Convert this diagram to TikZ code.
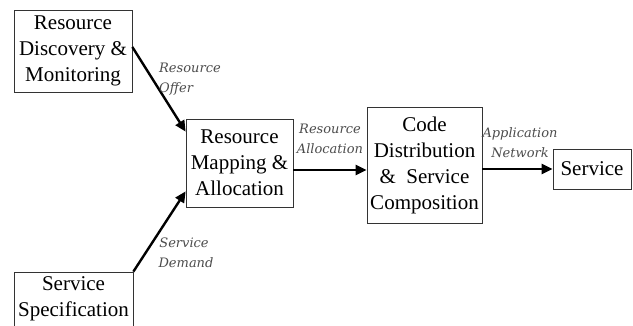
\documentclass[tikz,border=0pt]{standalone}
\usepackage{fontspec}
\setmainfont{Liberation Serif}
\newfontfamily\boxfont{Liberation Serif}
\newfontfamily\lblfont{DejaVu Serif}
\usetikzlibrary{arrows.meta,calc}
\begin{document}
\begin{tikzpicture}[x=1pt,y=1pt,
  box/.style={draw=black!80, line width=0.7pt, inner sep=0pt, align=center,
    font=\boxfont\fontsize{21}{26}\selectfont, text=black},
  lbl/.style={font=\lblfont\itshape\fontsize{13}{20}\selectfont, text=black!70, inner sep=0pt},
  arr/.style={line width=2.4pt, -{Triangle[length=11pt,width=10pt]}}]
\useasboundingbox (0,0) rectangle (633,-326);
\node[box, minimum width=118pt, minimum height=82pt] (b1) at (73,-51) {Resource\\Discovery \&\\Monitoring};
\node[box, minimum width=107pt, minimum height=88pt] (b2) at (239.5,-163) {Resource\\Mapping \&\\Allocation};
\node[box, minimum width=115pt, minimum height=116pt] (b3) at (424.5,-165) {Code\\Distribution\\\&\ \ Service\\Composition};
\node[box, minimum width=78pt, minimum height=40pt] (b4) at (592,-169) {Service};
\node[box, minimum width=119pt, minimum height=68pt] (b5) at (73.5,-306) {};
\node[font=\boxfont\fontsize{21}{26}\selectfont, align=center, anchor=north, inner sep=0pt] (b5t) at (73.5,-276) {Service\\Specification};
\draw[arr] ([yshift=4pt]b1.east) -- ([yshift=-13pt]b2.north west);
\draw[arr] (b5.north east) -- ([yshift=16pt]b2.south west);
\draw[arr] ([yshift=-7pt]b2.east) -- ([yshift=-7pt]b2.east -| b3.west);
\draw[arr] (b3.east |- b4.west) -- (b4.west);
\node[lbl, align=left, anchor=west] (l1) at (159,-79) {Resource\\Offer};
\node[lbl, align=center] (l2) at (330,-139) {Resource\\Allocation};
\node[lbl, align=center] (l3) at (520,-143) {Application\\Network};
\node[lbl, align=center] (l4) at (184,-253) {Service\\\hspace*{4pt}Demand};
\end{tikzpicture}
\end{document}
